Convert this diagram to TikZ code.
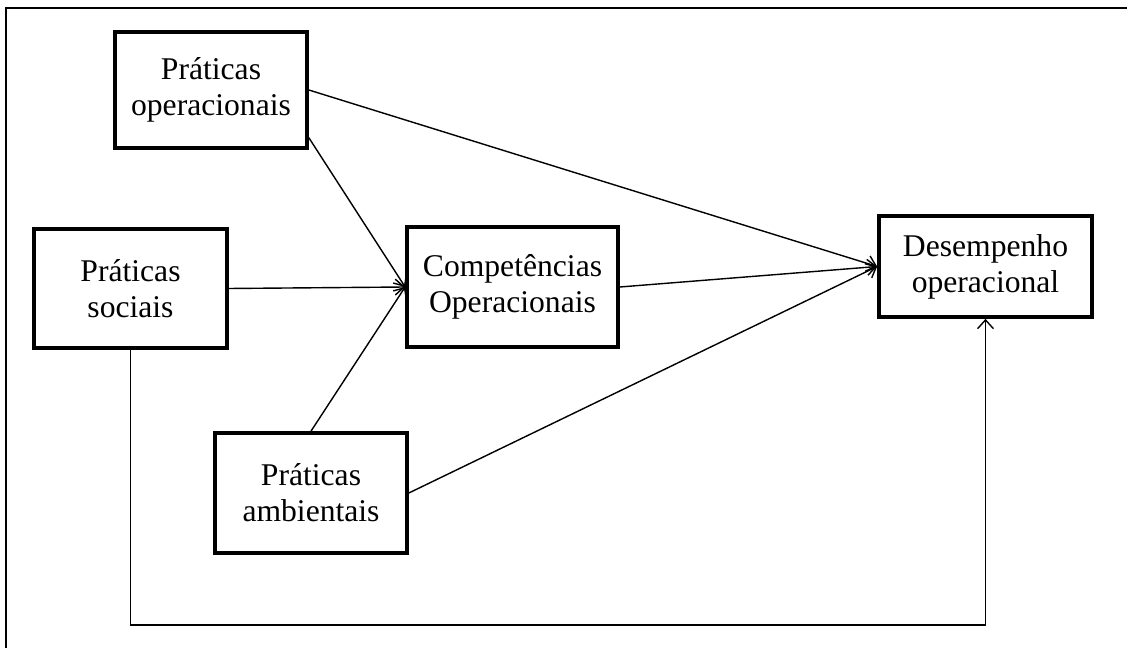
\documentclass[tikz,border=0pt]{standalone}
\usepackage{fontspec}
\setmainfont{Liberation Serif}
\usetikzlibrary{arrows.meta}

\tikzset{
  bloco/.style={draw, line width=2.1pt, align=center, inner sep=0pt,
    font=\fontsize{18}{20.5}\selectfont},
  seta/.style={line width=0.8pt, -{Straight Barb[length=5pt,width=9pt]}}
}

\begin{document}
\begin{tikzpicture}[x=0.02cm, y=-0.02cm]
    \useasboundingbox (0,0) rectangle (1127,648);
    \draw[line width=1.3pt] (6,648)--(6,8)--(1127,8);
    \node[bloco, minimum width=192*0.02cm, minimum height=116*0.02cm] (po) at (211,90) {Práticas\\operacionais};
    \node[bloco, minimum width=193*0.02cm, minimum height=119*0.02cm] (ps) at (130.5,288.5) {Práticas\\sociais};
    \node[bloco, minimum width=211*0.02cm, minimum height=120*0.02cm] (co) at (512.5,287) {Competências\\Operacionais};
    \node[bloco, minimum width=192*0.02cm, minimum height=120*0.02cm] (pa) at (311,493) {Práticas\\ambientais};
    \node[bloco, minimum width=213*0.02cm, minimum height=101*0.02cm] (de) at (985.5,266.5) {Desempenho\\operacional};
    \coordinate (volta) at (985.5,625);
    \draw[seta] (po.east) -- (de.west);
    \draw[seta] (po.-26) -- (co.west);
    \draw[seta] (ps.east) -- (co.west);
    \draw[seta] (pa.north) -- (co.west);
    \draw[seta] (co.east) -- (de.west);
    \draw[seta] (pa.east) -- (de.west);
    \draw[seta] (ps.south) |- (volta) -- (de.south);
  \end{tikzpicture}
\end{document}
